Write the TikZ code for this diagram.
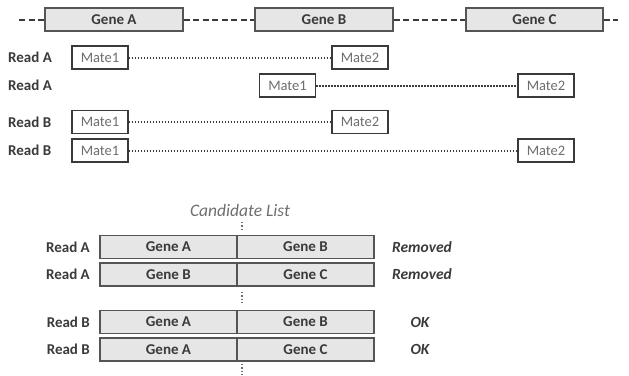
\documentclass[tikz,border=0pt]{standalone}
\usepackage{fontspec}
\setmainfont{Carlito}
\usepackage{tikz}

\definecolor{boxline}{HTML}{555555}
\definecolor{boxfill}{HTML}{E6E6E6}
\definecolor{txtdark}{HTML}{3A3A3A}
\definecolor{txtmate}{HTML}{6E6E6E}

\tikzset{
  genebox/.style={draw=boxline, fill=boxfill, line width=1.3pt, minimum height=23pt,
    inner sep=0pt, font=\fontsize{15}{18}\selectfont\bfseries, text=txtdark},
  matebox/.style={draw=txtdark, fill=white, line width=1.3pt, minimum width=56pt,
    minimum height=23pt, inner sep=0pt, font=\fontsize{14.5}{17}\selectfont, text=txtmate},
  readlbl/.style={inner sep=0pt, font=\fontsize{15}{18}\selectfont\bfseries, text=txtdark},
  statlbl/.style={inner sep=0pt, font=\fontsize{15.5}{18}\selectfont\bfseries\itshape, text=txtdark},
  pairline/.style={draw=txtdark, line width=2pt, dash pattern=on 1.4pt off 1.6pt},
  genegap/.style={draw=txtdark, line width=2pt, dash pattern=on 6pt off 3.5pt},
  listdots/.style={draw=txtmate, line width=1.4pt, dash pattern=on 1.4pt off 2pt}
}

\begin{document}
\begin{tikzpicture}[x=1pt,y=-1pt]
\useasboundingbox (0,0) rectangle (629,375);

% genome with three genes
\node[genebox, minimum width=138pt] (geneA) at (114,19.5) {Gene A};
\node[genebox, minimum width=138pt] (geneB) at (324,19.5) {Gene B};
\node[genebox, minimum width=137pt] (geneC) at (534.5,19.5) {Gene C};
\coordinate (gstart) at (19,19.5);
\coordinate (gend) at (618,19.5);
\draw[genegap] (gstart) -- (geneA.west);
\draw[genegap] (geneA.east) -- (geneB.west);
\draw[genegap] (geneB.east) -- (geneC.west);
\draw[genegap] (geneC.east) -- (gend);

% paired reads
\node[readlbl, anchor=west] (rA1) at (8,57.5) {Read A};
\node[matebox] (rA1m1) at (100,57.5) {Mate1};
\node[matebox] (rA1m2) at (360,57.5) {Mate2};
\draw[pairline] (rA1m1) -- (rA1m2);

\node[readlbl, anchor=west] (rA2) at (8,85.5) {Read A};
\node[matebox] (rA2m1) at (287.5,85.5) {Mate1};
\node[matebox] (rA2m2) at (546,85.5) {Mate2};
\draw[pairline] (rA2m1) -- (rA2m2);

\node[readlbl, anchor=west] (rB1) at (8,122) {Read B};
\node[matebox] (rB1m1) at (100,122) {Mate1};
\node[matebox] (rB1m2) at (360,122) {Mate2};
\draw[pairline] (rB1m1) -- (rB1m2);

\node[readlbl, anchor=west] (rB2) at (8,150.5) {Read B};
\node[matebox] (rB2m1) at (100,150.5) {Mate1};
\node[matebox] (rB2m2) at (546,150.5) {Mate2};
\draw[pairline] (rB2m1) -- (rB2m2);

% candidate list
\node[inner sep=0pt, font=\fontsize{17.5}{20}\selectfont\itshape, text=txtmate] (clist) at (240,210) {Candidate List};
\coordinate (d1a) at (242,222); \coordinate (d1b) at (242,231);
\coordinate (d2a) at (242,292); \coordinate (d2b) at (242,303);
\coordinate (d3a) at (242,364); \coordinate (d3b) at (242,375);
\draw[listdots] (d1a) -- (d1b);
\draw[listdots] (d2a) -- (d2b);
\draw[listdots] (d3a) -- (d3b);

\node[readlbl, anchor=east] (cA1) at (90,247) {Read A};
\node[genebox, minimum width=137pt] (cA1l) at (168.5,247) {Gene A};
\node[genebox, minimum width=137pt] (cA1r) at (305.5,247) {Gene B};
\node[statlbl] (cA1s) at (422,247) {Removed};

\node[readlbl, anchor=east] (cA2) at (90,274.5) {Read A};
\node[genebox, minimum width=137pt] (cA2l) at (168.5,274.5) {Gene B};
\node[genebox, minimum width=137pt] (cA2r) at (305.5,274.5) {Gene C};
\node[statlbl] (cA2s) at (422,274.5) {Removed};

\node[readlbl, anchor=east] (cB1) at (90,322) {Read B};
\node[genebox, minimum width=137pt] (cB1l) at (168.5,322) {Gene A};
\node[genebox, minimum width=137pt] (cB1r) at (305.5,322) {Gene B};
\node[statlbl] (cB1s) at (420,322) {OK};

\node[readlbl, anchor=east] (cB2) at (90,349.5) {Read B};
\node[genebox, minimum width=137pt] (cB2l) at (168.5,349.5) {Gene A};
\node[genebox, minimum width=137pt] (cB2r) at (305.5,349.5) {Gene C};
\node[statlbl] (cB2s) at (420,349.5) {OK};
\end{tikzpicture}
\end{document}
